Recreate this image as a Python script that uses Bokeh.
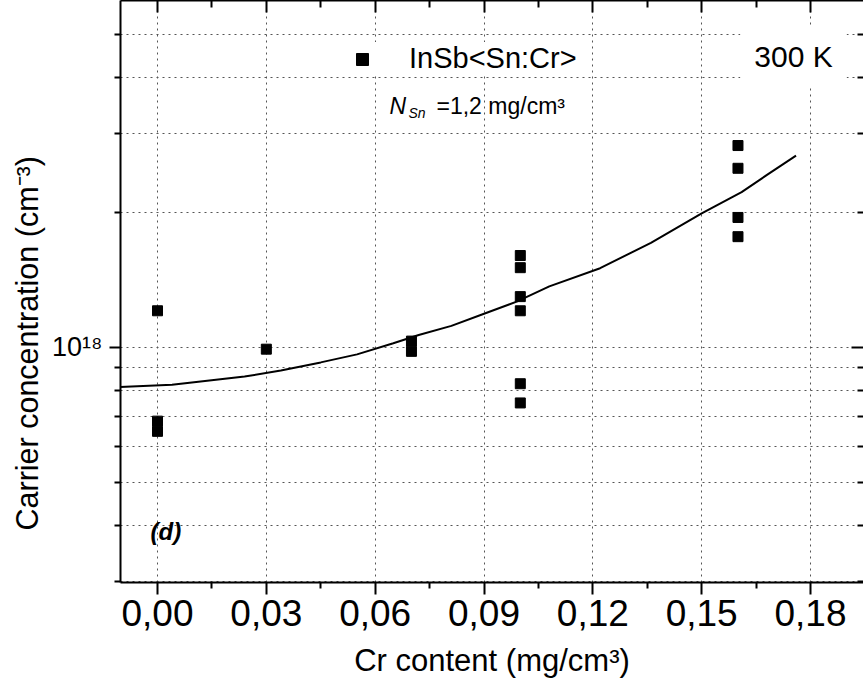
from bokeh.plotting import figure
from bokeh.models import FixedTicker, LogAxis, LinearAxis, Label, Title, CustomJSTickFormatter
from bokeh.embed import file_html
from bokeh.resources import INLINE

# ---------------- data ----------------
cr_content = [0.00, 0.00, 0.00, 0.03, 0.07, 0.07,
              0.10, 0.10, 0.10, 0.10, 0.10, 0.10,
              0.16, 0.16, 0.16, 0.16]
carrier_conc = [1.206e18, 0.684e18, 0.649e18, 0.990e18, 1.032e18, 0.979e18,
                1.602e18, 1.505e18, 1.297e18, 1.206e18, 0.829e18, 0.751e18,
                2.819e18, 2.508e18, 1.948e18, 1.765e18]

fit_x = [-0.0105, 0.004, 0.024, 0.034, 0.045, 0.055, 0.065, 0.072, 0.081,
         0.090, 0.099, 0.108, 0.122, 0.136, 0.150, 0.161, 0.168, 0.176]
fit_y = [0.815e18, 0.825e18, 0.860e18, 0.887e18, 0.925e18, 0.964e18, 1.021e18,
         1.065e18, 1.116e18, 1.188e18, 1.264e18, 1.367e18, 1.501e18, 1.710e18,
         1.989e18, 2.219e18, 2.424e18, 2.677e18]

x_ticks = [0.00, 0.03, 0.06, 0.09, 0.12, 0.15, 0.18]
x_tick_labels = ["0,00", "0,03", "0,06", "0,09", "0,12", "0,15", "0,18"]
x_minor_ticks = [0.015, 0.045, 0.075, 0.105, 0.135, 0.165]

y_ticks = [1e18]
y_tick_labels = ["10\u00b9\u2078"]
y_minor_ticks = [3e17, 4e17, 5e17, 6e17, 7e17, 8e17, 9e17, 2e18, 3e18, 4e18, 5e18]

series_name = "InSb<Sn:Cr>"
x_title = "Cr content (mg/cm\u00b3)"
y_title = "Carrier concentration (cm\u207b\u00b3)"

FONT = "Liberation Sans"
GRID = "#555555"

p = figure(width=863, height=689,
           x_range=(-0.0102, 0.1946), y_range=(2.985e17, 5.94e18),
           y_axis_type="log", output_backend="svg", toolbar_location=None,
           min_border_left=120, min_border_right=0, min_border_top=0,
           min_border_bottom=107, outline_line_color=None,
           background_fill_color="white", border_fill_color="white")

x_ticker = FixedTicker(ticks=x_ticks, minor_ticks=x_minor_ticks)
y_ticker = FixedTicker(ticks=y_ticks, minor_ticks=y_minor_ticks)

fmt_code = """
for (let i = 0; i < vals.length; i++) {
  if (Math.abs(vals[i] - tick) <= 1e-6 * Math.max(Math.abs(vals[i]), 1e-3)) return labs[i];
}
return "";
"""

# bottom axis
xa = p.xaxis[0]
xa.ticker = x_ticker
xa.formatter = CustomJSTickFormatter(args=dict(vals=x_ticks, labs=x_tick_labels), code=fmt_code)
xa.axis_line_width = 2
xa.major_tick_line_width = 2
xa.minor_tick_line_width = 2
xa.major_tick_in = 0
xa.major_tick_out = 12
xa.minor_tick_in = 0
xa.minor_tick_out = 6
xa.major_label_text_font = FONT
xa.major_label_text_font_size = "37px"
xa.major_label_text_color = "black"
xa.major_label_standoff = 5
xa.axis_label = x_title
xa.axis_label_text_font = FONT
xa.axis_label_text_font_size = "31px"
xa.axis_label_text_font_style = "normal"
xa.axis_label_text_color = "black"
xa.axis_label_standoff = 14

# left axis
ya = p.yaxis[0]
ya.ticker = y_ticker
ya.formatter = CustomJSTickFormatter(args=dict(vals=y_ticks, labs=y_tick_labels), code=fmt_code)
ya.axis_line_width = 2
ya.major_tick_line_width = 2
ya.minor_tick_line_width = 2
ya.major_tick_in = 0
ya.major_tick_out = 11
ya.minor_tick_in = 0
ya.minor_tick_out = 6
ya.major_label_text_font = FONT
ya.major_label_text_font_size = "27px"
ya.major_label_text_color = "black"
ya.major_label_standoff = 7

# y title on the left, placed low as in the original
p.add_layout(Title(text=y_title, align="left", offset=52, standoff=11,
                   text_font=FONT, text_font_size="30.5px",
                   text_font_style="normal", text_color="black"), "left")

# top axis (ticks only)
ta = LinearAxis(ticker=x_ticker,
                major_label_overrides={t: "" for t in x_ticks},
                major_label_text_font_size="0px", major_label_standoff=0,
                major_tick_in=12, major_tick_out=0,
                minor_tick_in=7, minor_tick_out=0,
                axis_line_width=2, major_tick_line_width=2,
                minor_tick_line_width=2)
p.add_layout(ta, "above")

# right axis (ticks only)
ra = LogAxis(ticker=y_ticker,
             major_label_overrides={t: "" for t in y_ticks},
             major_label_text_font_size="0px", major_label_standoff=0,
             major_tick_in=12, major_tick_out=0,
             minor_tick_in=6, minor_tick_out=0,
             axis_line_color=None, major_tick_line_width=2,
             minor_tick_line_width=2)
p.add_layout(ra, "right")

# grids (dotted)
for g in (p.xgrid, p.ygrid):
    g.grid_line_color = GRID
    g.grid_line_alpha = 1.0
    g.grid_line_width = 1
    g.grid_line_dash = "dotted"
p.ygrid.minor_grid_line_color = GRID
p.ygrid.minor_grid_line_alpha = 1.0
p.ygrid.minor_grid_line_width = 1
p.ygrid.minor_grid_line_dash = "dotted"

# fit curve and data
p.line(fit_x, fit_y, line_color="black", line_width=2)
p.scatter(cr_content, carrier_conc, marker="square", size=10,
          fill_color="black", line_color="black", legend_label=series_name)

lg = p.legend[0]
lg.location = (202, 507)
lg.background_fill_color = "white"
lg.background_fill_alpha = 1
lg.border_line_color = None
lg.label_text_font = FONT
lg.label_text_font_size = "29px"
lg.label_text_color = "black"
lg.glyph_width = 80
lg.glyph_height = 30
lg.label_standoff = 7
lg.label_width = 183
lg.padding = 10
lg.margin = 0

# annotations
p.add_layout(Label(x=0.1753, y=4.459e18, text="300 K", text_align="center",
                   text_baseline="middle", text_font=FONT, text_font_size="30px",
                   text_color="black", background_fill_color="white",
                   padding=14))

p.add_layout(Label(x=0.06395, y=3.456e18, text="N", text_font=FONT,
                   text_font_style="italic", text_font_size="23px",
                   text_baseline="alphabetic", text_color="black"))
p.add_layout(Label(x=0.06918, y=3.332e18, text="Sn", text_font=FONT,
                   text_font_style="italic", text_font_size="14px",
                   text_baseline="alphabetic", text_color="black"))
p.add_layout(Label(x=0.0769, y=3.456e18, text="=1,2 mg/cm\u00b3", text_font=FONT,
                   text_font_size="23px", text_baseline="alphabetic",
                   text_color="black"))

p.add_layout(Label(x=-0.00193, y=3.875e17, text="(d)", text_font=FONT,
                   text_font_style="bold italic", text_font_size="24px",
                   text_baseline="middle", text_color="black"))

open("out.html", "w").write(file_html(p, INLINE))
